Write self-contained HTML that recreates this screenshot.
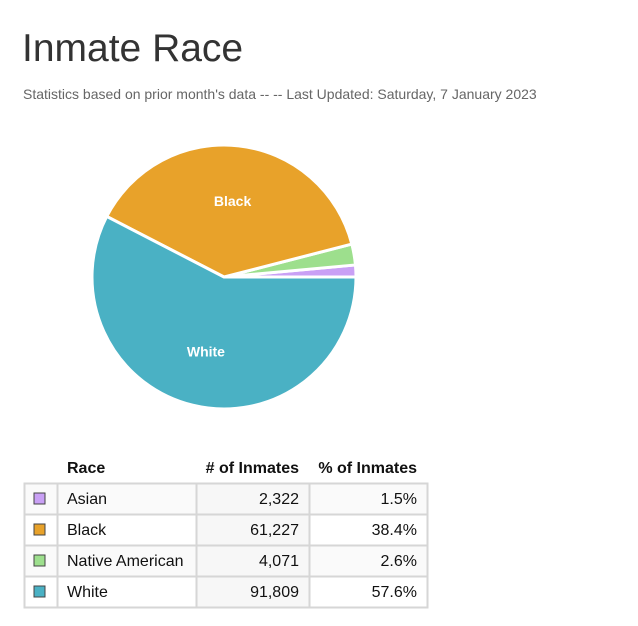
<!DOCTYPE html>
<html><head><meta charset="utf-8"><style>
body{margin:0;background:#fff;width:638px;height:621px;overflow:hidden;font-family:"Liberation Sans",sans-serif}
</style></head><body>
<svg width="638" height="621" xmlns="http://www.w3.org/2000/svg">
<text x="22" y="61" font-size="39" fill="#333">Inmate Race</text>
<text x="23" y="99" font-size="14" fill="#666">Statistics based on prior month's data -- -- Last Updated: Saturday, 7 January 2023</text>
<g id="pie"></g>
<g id="tbl"></g>
</svg>
<script>
const races=["Asian","Black","Native American","White"];
const counts=[2322,61227,4071,91809];
const pctLabels=["1.5%","38.4%","2.6%","57.6%"];
const colors=["#c9a0f5","#e8a22a","#9ddf8d","#4ab1c4"];
const pieOrder=[0,2,1,3];
const NS="http://www.w3.org/2000/svg";
const pie=document.getElementById('pie');
const cx=224,cy=277,R=132;
const total=counts.reduce((a,b)=>a+b,0);
let a0=0;
pieOrder.forEach(i=>{
  const frac=counts[i]/total, a1=a0+frac*2*Math.PI;
  const p=(a)=>[cx+R*Math.cos(a),cy-R*Math.sin(a)];
  const s=p(a0),e=p(a1),large=frac>0.5?1:0;
  const path=document.createElementNS(NS,'path');
  path.setAttribute('d',`M${cx},${cy}L${s[0]},${s[1]}A${R},${R} 0 ${large} 0 ${e[0]},${e[1]}Z`);
  path.setAttribute('fill',colors[i]);path.setAttribute('stroke','#fff');path.setAttribute('stroke-width','3');
  
  
  pie.appendChild(path);
  if(frac>0.1){
    const m=(a0+a1)/2;
    const t=document.createElementNS(NS,'text');
    t.setAttribute('x',cx+R*0.58*Math.cos(m));t.setAttribute('y',cy-R*0.58*Math.sin(m)+5);
    t.setAttribute('text-anchor','middle');t.setAttribute('font-size','14');t.setAttribute('font-weight','bold');t.setAttribute('fill','#fff');
    
    
    t.textContent=races[i];pie.appendChild(t);
  }
  a0=a1;
});
const tbl=document.getElementById('tbl');
function txt(x,y,s,anchor,bold,name){
  const t=document.createElementNS(NS,'text');
  t.setAttribute('x',x);t.setAttribute('y',y);t.setAttribute('font-size','16');t.setAttribute('fill','#111');
  t.setAttribute('text-anchor',anchor);if(bold)t.setAttribute('font-weight','bold');
  
  
  t.textContent=s;tbl.appendChild(t);
}
txt(67,473,"Race","start",true,'header-race');
txt(299,473,"# of Inmates","end",true,'header-count');
txt(417,473,"% of Inmates","end",true,'header-percent');
const cols=[24,57,196,309,427];
races.forEach((r,i)=>{
  const y=483+i*31;
  for(let c=0;c<4;c++){
    const rc=document.createElementNS(NS,'rect');
    rc.setAttribute('x',cols[c]+0.5);rc.setAttribute('y',y+0.5);rc.setAttribute('width',cols[c+1]-cols[c]);rc.setAttribute('height',31);
    rc.setAttribute('fill',c===2?'#f7f7f7':(i%2===0?'#fafafa':'#fff'));rc.setAttribute('stroke','#d6d6d6');rc.setAttribute('stroke-width','2');
    
    
    tbl.appendChild(rc);
  }
  const sw=document.createElementNS(NS,'rect');
  sw.setAttribute('x',34);sw.setAttribute('y',y+10);sw.setAttribute('width',11);sw.setAttribute('height',11);
  sw.setAttribute('fill',colors[i]);sw.setAttribute('stroke','#444');sw.setAttribute('stroke-width','1');
  
  
  tbl.appendChild(sw);
  txt(67,y+21,r,"start",false,'race-name');
  txt(299,y+21,counts[i].toLocaleString('en-US'),"end",false,'inmate-count');
  txt(417,y+21,pctLabels[i],"end",false,'inmate-percent');
});
</script>
</body></html>
